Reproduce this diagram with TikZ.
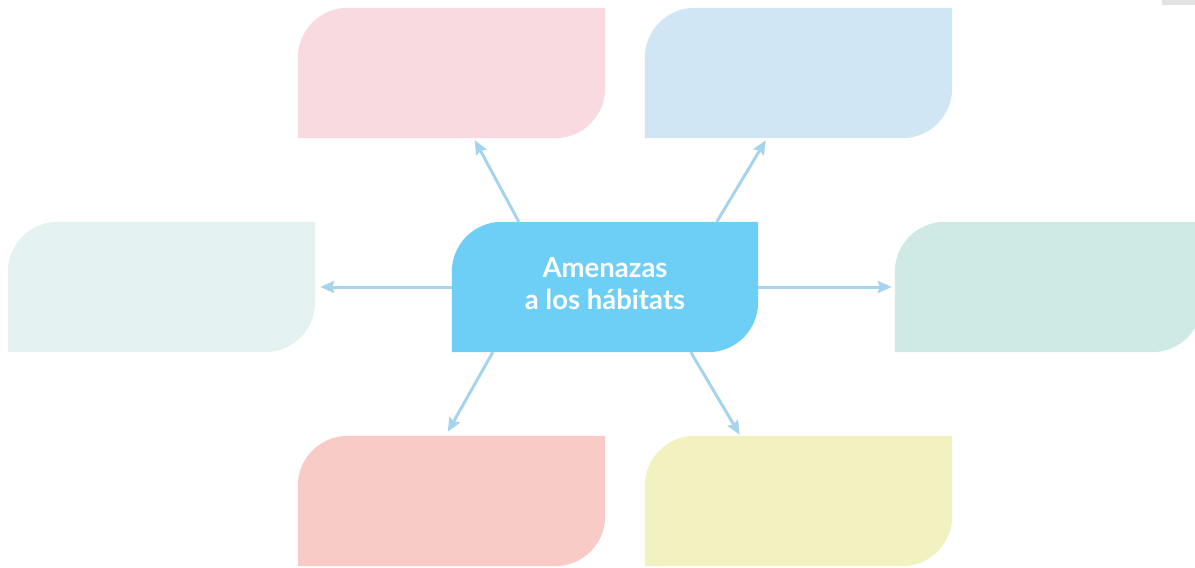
\documentclass[tikz,border=0pt]{standalone}
\usepackage{fontspec}
\setmainfont{Lato}
\usetikzlibrary{arrows.meta}
\definecolor{cPinkT}{HTML}{F9DAE1}
\definecolor{cBlueT}{HTML}{D1E6F4}
\definecolor{cLeft}{HTML}{E4F2F2}
\definecolor{cRight}{HTML}{CFEAE4}
\definecolor{cPinkB}{HTML}{F9CBC7}
\definecolor{cYellB}{HTML}{F2F2C1}
\definecolor{cCenter}{HTML}{6DCFF6}
\definecolor{cArrow}{HTML}{A6D4EE}
\definecolor{cGrey}{HTML}{E2E2E2}
\pgfdeclarelayer{background}
\pgfsetlayers{background,main}
\newcommand\leafshape[2]{%
  \begin{pgfonlayer}{background}
  \fill[#2] (#1.south west) -- ([yshift=-50pt]#1.north west)
    arc[start angle=180,end angle=90,radius=50pt] -- (#1.north east)
    -- ([yshift=50pt]#1.south east)
    arc[start angle=0,end angle=-90,radius=50pt] -- cycle;
  \end{pgfonlayer}}
\tikzset{
  leaf/.style={rectangle,inner sep=0pt,minimum width=307pt,minimum height=130pt},
  hub/.style={rectangle,inner sep=0pt,minimum width=306pt,minimum height=130pt,
    text=white,font=\bfseries\fontsize{27.5}{32}\selectfont,align=center},
  link/.style={draw=cArrow,line width=3pt,-{Stealth[length=14pt,width=12pt,inset=2pt]}}
}
\begin{document}
\begin{tikzpicture}[x=1pt,y=-1pt]
\useasboundingbox (0,0) rectangle (1195,568);
\clip (0,0) rectangle (1195,568);
\fill[cGrey] (1162,0) rectangle (1195,5);
\node[leaf] (tl) at (451.5,73) {};
\node[leaf] (tr) at (798.5,73) {};
\node[leaf] (l) at (161.5,287) {};
\node[leaf] (r) at (1048.5,287) {};
\node[leaf] (bl) at (451.5,501) {};
\node[leaf] (br) at (798.5,501) {};
\node[hub] (c) at (605,284) {Amenazas\\a los hábitats};
\leafshape{tl}{cPinkT}
\leafshape{tr}{cBlueT}
\leafshape{l}{cLeft}
\leafshape{r}{cRight}
\leafshape{bl}{cPinkB}
\leafshape{br}{cYellB}
\node[leaf,minimum width=306pt] (cb) at (605,287) {};
\leafshape{cb}{cCenter}
\draw[link] ([xshift=67pt]cb.north west) -- ([xshift=177pt,yshift=-2pt]tl.south west);
\draw[link] ([xshift=265pt]cb.north west) -- ([xshift=121pt,yshift=-2pt]tr.south west);
\draw[link] (cb.west) -- ([xshift=5pt]l.east);
\draw[link] (cb.east) -- ([xshift=-3pt]r.west);
\draw[link] ([xshift=41pt]cb.south west) -- ([xshift=150pt,yshift=4pt]bl.north west);
\draw[link] ([xshift=239pt]cb.south west) -- ([xshift=95pt,yshift=1pt]br.north west);
\end{tikzpicture}
\end{document}
